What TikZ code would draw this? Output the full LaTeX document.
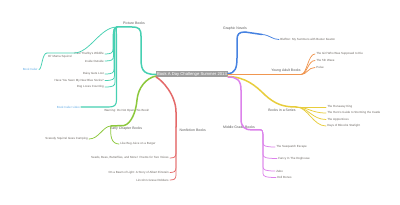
\documentclass[tikz,border=0pt]{standalone}
\usepackage{fontspec}
\setmainfont{Liberation Sans}
\tikzset{
  rootbox/.style={fill={rgb,255:red,158;green,158;blue,158},text=white,inner sep=0pt,outer sep=0pt,minimum width=72pt,minimum height=6pt,font=\fontsize{4.2}{5}\selectfont},
  topic/.style={inner sep=0.5pt,outer sep=0pt,text={rgb,255:red,90;green,90;blue,90},font=\fontsize{3.5}{4}\selectfont},
  leaf/.style={inner sep=0.5pt,outer sep=0.8pt,text={rgb,255:red,105;green,100;blue,95},font=\fontsize{2.95}{3.4}\selectfont},
  weblink/.style={leaf,text={rgb,255:red,95;green,170;blue,230}},
  trunk/.style={line width=1.5pt,line cap=round},
  twig/.style={line width=0.75pt,line cap=round},
}
\colorlet{pbc}{rgb,255:red,70;green,208;blue,178}
\colorlet{ecbc}{rgb,255:red,140;green,200;blue,60}
\colorlet{nfc}{rgb,255:red,228;green,105;blue,105}
\colorlet{gnc}{rgb,255:red,70;green,130;blue,225}
\colorlet{yac}{rgb,255:red,240;green,150;blue,80}
\colorlet{bisc}{rgb,255:red,232;green,205;blue,60}
\colorlet{mgc}{rgb,255:red,220;green,130;blue,235}
\begin{document}
\begin{tikzpicture}[x=1pt,y=-1pt]
\path[use as bounding box] (0,0) rectangle (400,205);
\path[fill=white] (0,0) rectangle (400,205);
\node[rootbox] (root) at (192,74.5) {Book A Day Challenge Summer 2013};
% picture books
\node[topic] (pb) at (134,23.5) {Picture Books};
\coordinate (pbL) at (117,27);
\draw[trunk,pbc] (root.west) .. controls (141,74.5) and (141,68) .. (141,55) -- (141,36) .. controls (141,29) and (139,27) .. (132,27) -- (pbL);
\node[leaf,anchor=east] (paul) at (105,54) {Paul Thurlby's Wildlife};
\node[leaf,anchor=east] (inside) at (105,61) {Inside Outside};
\node[leaf,anchor=east] (daisy) at (105,74) {Daisy Gets Lost};
\node[leaf,anchor=east] (socks) at (105,80.5) {Have You Seen My New Blue Socks?};
\node[leaf,anchor=east] (dog) at (105,87) {Dog Loves Counting};
\node[leaf] (mama) at (60,57) {Ol' Mama Squirrel};
\node[weblink,anchor=east] (mamaweb) at (39,69.5) {Book trailer};
\node[leaf,anchor=west] (warn) at (103,110.5) {Warning: Do Not Open This Book!};
\node[weblink,anchor=east] (warnweb) at (81,107) {Book trailer video};
\coordinate (mamaL) at (47,53);
\draw[twig,pbc] (pbL) .. controls (100,27) and (90,53) .. (74,53) -- (mamaL);
\draw[twig,pbc] (mamaL) .. controls (42,53) and (42,69.5) .. (mamaweb.east);
\draw[twig,pbc] (pbL) .. controls (114,27) and (113,30) .. (113,38) -- (113,49) .. controls (113,53) and (111,54) .. (paul.east);
\draw[twig,pbc] (pbL) .. controls (114,27) and (113.5,30) .. (113.5,38) -- (113.5,56) .. controls (113.5,60) and (111.5,61) .. (inside.east);
\draw[twig,pbc] (pbL) .. controls (114,27) and (114,30) .. (114,38) -- (114,69) .. controls (114,73) and (112,74) .. (daisy.east);
\draw[twig,pbc] (pbL) .. controls (114.5,27) and (114.5,30) .. (114.5,38) -- (114.5,75.5) .. controls (114.5,79.5) and (112.5,80.5) .. (socks.east);
\draw[twig,pbc] (pbL) .. controls (115,27) and (115,30) .. (115,38) -- (115,82) .. controls (115,86) and (113,87) .. (dog.east);
\draw[line width=1.1pt,line cap=round,pbc] (pbL) .. controls (116,27) and (116.5,30) .. (116.5,38) -- (116.5,100) .. controls (116.5,105) and (114.5,107) .. (109,107) -- (warnweb.east);
% early chapter books
\node[topic] (ecb) at (126,128.5) {Early Chapter Books};
\coordinate (ecbL) at (111,126);
\draw[trunk,ecbc] ([yshift=-1.5pt]root.west) .. controls (146,78) and (138,88) .. (137,100) .. controls (136,112) and (131,124) .. (124,125.5) -- (ecbL);
\node[leaf,anchor=east] (scaredy) at (89,139) {Scaredy Squirrel Goes Camping};
\node[leaf,anchor=west] (bugjuice) at (119,144) {Like Bug Juice on a Burger};
\draw[twig,ecbc] (ecbL) .. controls (103,126) and (99,139) .. (scaredy.east);
\draw[twig,ecbc] (ecbL) .. controls (110,135) and (111,144) .. (bugjuice.west);
% nonfiction books
\node[topic,anchor=west] (nf) at (179,130) {Nonfiction Books};
\coordinate (nfT) at (176,127);
\draw[trunk,nfc] ([yshift=-2.5pt]root.west) .. controls (162,80) and (176,95) .. (176,112) -- (nfT);
\node[leaf,anchor=east] (seeds) at (170,158) {Seeds, Bees, Butterflies, and More!: Poems for Two Voices};
\node[leaf,anchor=east] (beam) at (170,172.5) {On a Beam of Light: A Story of Albert Einstein};
\node[leaf,anchor=east] (lincoln) at (170,180) {Lincoln's Grave Robbers};
\draw[twig,nfc] (nfT) -- (176,153) .. controls (176,157) and (174,158) .. (seeds.east);
\draw[twig,nfc] (nfT) -- (176,167.5) .. controls (176,171.5) and (174,172.5) .. (beam.east);
\draw[twig,nfc] (nfT) -- (176,175) .. controls (176,179) and (174,180) .. (lincoln.east);
% graphic novels
\node[topic] (gn) at (235,29) {Graphic Novels};
\coordinate (gnR) at (262,34.5);
\draw[trunk,gnc] ([yshift=1pt]root.east) .. controls (235,73.5) and (237,68) .. (237,58) -- (237,40) .. controls (237,34) and (239,32) .. (245,32) -- (gnR);
\node[leaf,anchor=west] (bluffton) at (279,39.5) {Bluffton: My Summers with Buster Keaton};
\draw[twig,gnc] (gnR) .. controls (270,35) and (272,39.5) .. (bluffton.west);
% young adult books
\node[topic] (ya) at (286,71) {Young Adult Books};
\coordinate (yaR) at (301,74.5);
\draw[trunk,yac] (root.east) -- (yaR);
\node[leaf,anchor=west] (girl) at (315,54) {The Girl Who Was Supposed to Die};
\node[leaf,anchor=west] (wave) at (315,60.5) {The 5th Wave};
\node[leaf,anchor=west] (pulse) at (315,67.5) {Pulse};
\draw[twig,yac] (yaR) .. controls (307,74.5) and (308,54) .. (girl.west);
\draw[twig,yac] (yaR) .. controls (307,74.5) and (308,60.5) .. (wave.west);
\draw[twig,yac] (yaR) .. controls (307,74.5) and (308,67.5) .. (pulse.west);
% books in a series
\node[topic] (bis) at (282,110.5) {Books in a Series};
\coordinate (bisR) at (296,107);
\draw[trunk,bisc] ([yshift=-2pt]root.east) .. controls (245,77) and (255,85) .. (265,95) .. controls (275,104) and (283,107) .. (bisR);
\node[leaf,anchor=west] (runaway) at (326,107) {The Runaway King};
\node[leaf,anchor=west] (hero) at (326,113) {The Hero's Guide to Storming the Castle};
\node[leaf,anchor=west] (appr) at (326,119.5) {The Apprentices};
\node[leaf,anchor=west] (days) at (326,126) {Days of Blood \& Starlight};
\draw[twig,bisc] (bisR) -- (runaway.west);
\draw[twig,bisc] (bisR) .. controls (308,107) and (311,113) .. (hero.west);
\draw[twig,bisc] (bisR) .. controls (308,107) and (312,119.5) .. (appr.west);
\draw[twig,bisc] (bisR) .. controls (308,107) and (313,126) .. (days.west);
% middle grade books
\node[topic] (mg) at (239,127.5) {Middle Grade Books};
\coordinate (mgR) at (261,130);
\draw[trunk,mgc] ([yshift=-2.5pt]root.east) .. controls (237,77) and (241,80) .. (241,90) -- (241,119) .. controls (241,127) and (245,130) .. (252,130) -- (mgR);
\node[leaf,anchor=west] (sasq) at (275,147) {The Sasquatch Escape};
\node[leaf,anchor=west] (fancy) at (277,158.5) {Fancy In The Doghouse};
\node[leaf,anchor=west] (zebo) at (275,171) {Zebo};
\node[leaf,anchor=west] (doll) at (276,177.5) {Doll Bones};
\draw[twig,mgc] (mgR) .. controls (263,130) and (263,134) .. (263,138) -- (263,143) .. controls (263,146) and (266,147) .. (sasq.west);
\draw[twig,mgc] (mgR) .. controls (263,130) and (263,134) .. (263,138) -- (263,154.5) .. controls (263,157.5) and (266,158.5) .. (fancy.west);
\draw[twig,mgc] (mgR) .. controls (263,130) and (263,134) .. (263,138) -- (263,167) .. controls (263,170) and (266,171) .. (zebo.west);
\draw[twig,mgc] (mgR) .. controls (263,130) and (263,134) .. (263,138) -- (263,173.5) .. controls (263,176.5) and (266,177.5) .. (doll.west);
\end{tikzpicture}
\end{document}
